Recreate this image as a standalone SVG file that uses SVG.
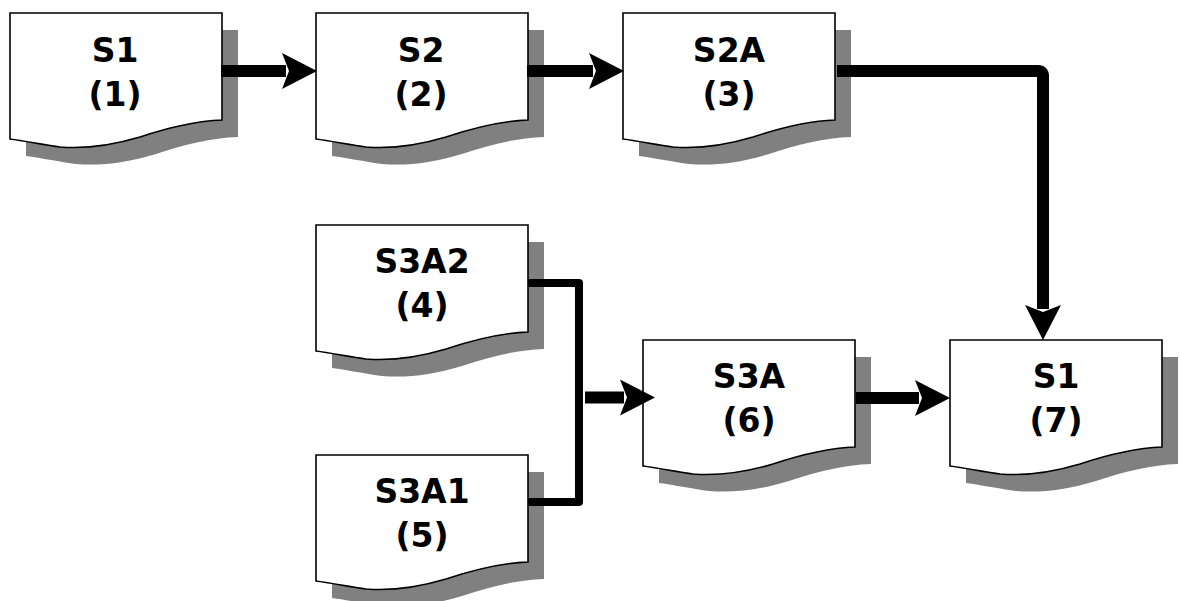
<svg xmlns="http://www.w3.org/2000/svg" xmlns:xlink="http://www.w3.org/1999/xlink" width="1179" height="601" viewBox="0 0 1179 601">
<style>
.box{fill:#fff;stroke:#000;stroke-width:1.6}
.shadow{fill:#808080;stroke:none}
.lbl{font-family:"DejaVu Sans",Verdana,sans-serif;font-weight:bold;font-size:33px;fill:#000;text-anchor:middle}
.conn{fill:none;stroke:#000;stroke-width:12;stroke-linejoin:round}
.thin{fill:none;stroke:#000;stroke-width:8;stroke-linejoin:round}
</style>
<defs>
<path id="doc" d="M0,0 H212 V107 C185,108 160,114 130,124 C100,133 75,136 50,134 C35,132 15,128 0,126 Z"/>
<marker id="ah" markerUnits="userSpaceOnUse" markerWidth="36" markerHeight="38" viewBox="0 0 36 38" refX="4" refY="19" orient="auto">
<path d="M0,1 L35,19 L0,37 L7,19 Z" fill="#000"/>
</marker>
</defs>
<g id="n1" transform="translate(10,13)">
<use xlink:href="#doc" class="shadow" transform="translate(16,17)"/>
<use xlink:href="#doc" class="box"/>
<text class="lbl" x="105" y="49">S1</text>
<text class="lbl" x="105" y="93">(1)</text>
</g>
<g id="n2" transform="translate(316,13)">
<use xlink:href="#doc" class="shadow" transform="translate(16,17)"/>
<use xlink:href="#doc" class="box"/>
<text class="lbl" x="105" y="49">S2</text>
<text class="lbl" x="105" y="93">(2)</text>
</g>
<g id="n3" transform="translate(623,13)">
<use xlink:href="#doc" class="shadow" transform="translate(16,17)"/>
<use xlink:href="#doc" class="box"/>
<text class="lbl" x="106" y="49">S2A</text>
<text class="lbl" x="106" y="93">(3)</text>
</g>
<g id="n4" transform="translate(316,225)">
<use xlink:href="#doc" class="shadow" transform="translate(16,17)"/>
<use xlink:href="#doc" class="box"/>
<text class="lbl" x="106" y="48">S3A2</text>
<text class="lbl" x="106" y="92">(4)</text>
</g>
<g id="n5" transform="translate(316,455)">
<use xlink:href="#doc" class="shadow" transform="translate(16,17)"/>
<use xlink:href="#doc" class="box"/>
<text class="lbl" x="106" y="48">S3A1</text>
<text class="lbl" x="106" y="92">(5)</text>
</g>
<g id="n6" transform="translate(643,340)">
<use xlink:href="#doc" class="shadow" transform="translate(16,17)"/>
<use xlink:href="#doc" class="box"/>
<text class="lbl" x="106" y="48">S3A</text>
<text class="lbl" x="106" y="92">(6)</text>
</g>
<g id="n7" transform="translate(950,340)">
<use xlink:href="#doc" class="shadow" transform="translate(16,17)"/>
<use xlink:href="#doc" class="box"/>
<text class="lbl" x="106" y="48">S1</text>
<text class="lbl" x="106" y="92">(7)</text>
</g>
<g id="connectors">
<path class="conn" d="M221,71 H286" marker-end="url(#ah)"/>
<path class="conn" d="M527,71 H593" marker-end="url(#ah)"/>
<path class="conn" d="M837,71 H1038 Q1043,71 1043,76 V309" marker-end="url(#ah)"/>
<path class="thin" d="M528,283 H579 V502 H528"/>
<path class="conn" d="M585,397.5 H624" marker-end="url(#ah)"/>
<path class="conn" d="M856,398 H919" marker-end="url(#ah)"/>
</g>
</svg>
